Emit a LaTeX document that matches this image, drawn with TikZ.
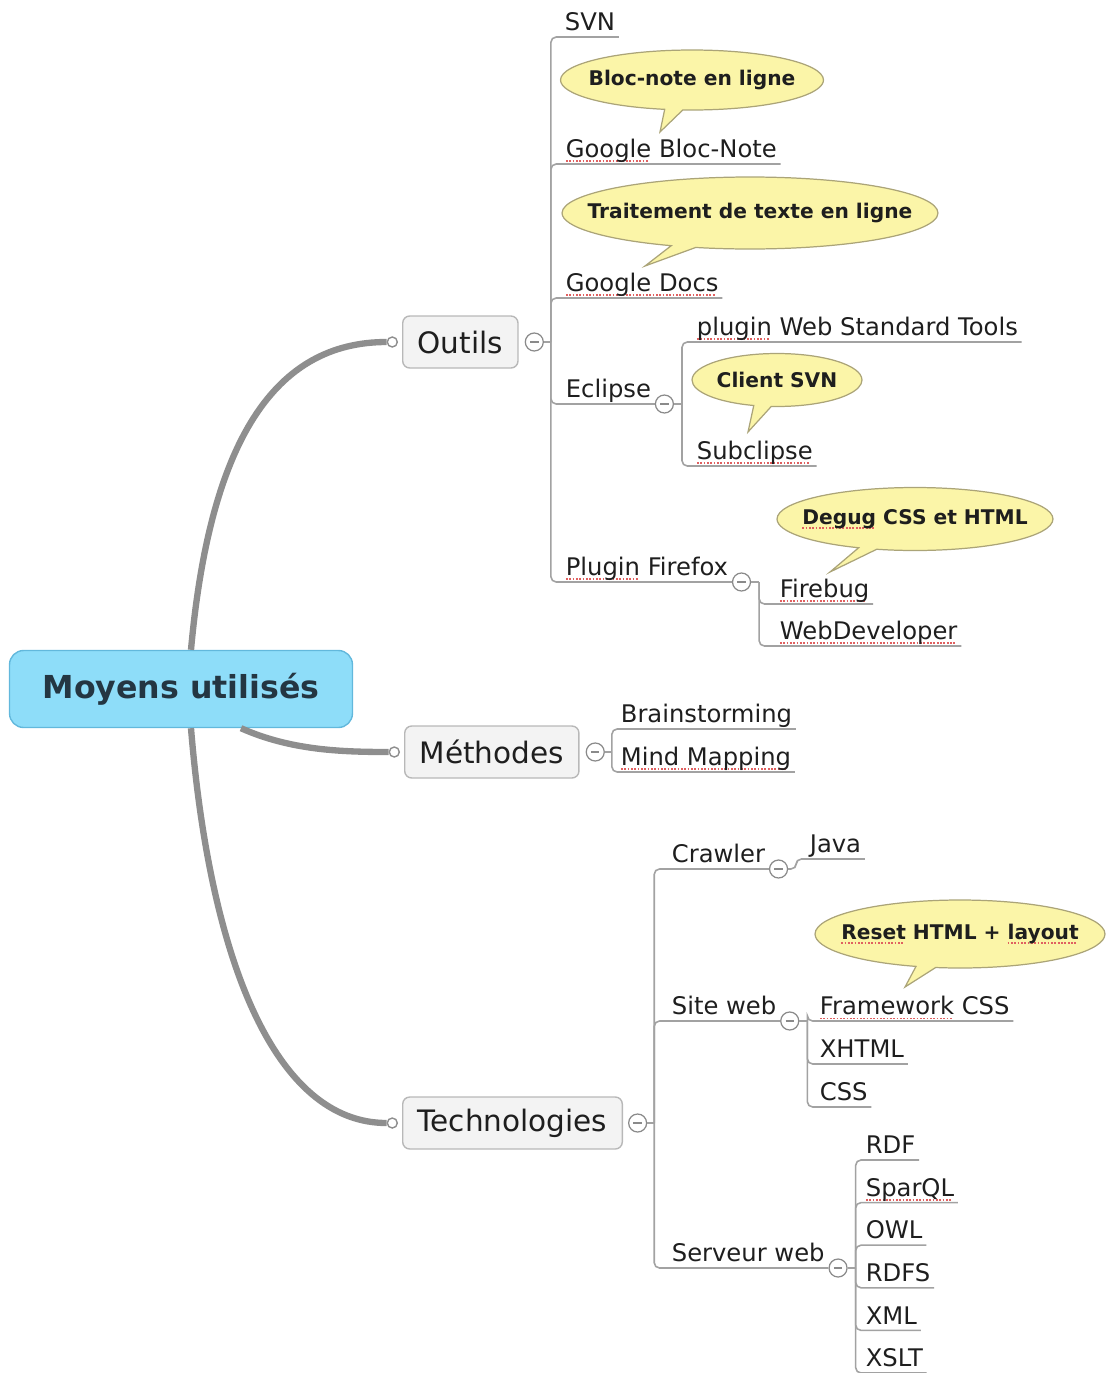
\documentclass[tikz,border=0pt]{standalone}
\usepackage{fontspec}
\setmainfont{DejaVu Sans}
\usetikzlibrary{shapes,positioning}
\definecolor{ink}{HTML}{1E1E1E}
\definecolor{twiggray}{HTML}{A2A2A2}
\definecolor{limbgray}{HTML}{8E8E8E}
\definecolor{knobline}{HTML}{8A8A8A}
\definecolor{boxfill}{HTML}{F3F3F3}
\definecolor{boxline}{HTML}{B8B8B8}
\definecolor{rootfill}{HTML}{8EDDF9}
\definecolor{rootline}{HTML}{62B8DC}
\definecolor{roottext}{HTML}{243642}
\definecolor{notefill}{HTML}{FBF5A8}
\definecolor{noteline}{HTML}{ABA478}
\definecolor{typored}{HTML}{E06060}
\newsavebox\typobox
\newcommand\typo[1]{\sbox\typobox{#1}\rlap{\textcolor{typored}{\leaders\hbox{\rule[-2.4pt]{1pt}{0.8pt}\kern0.9pt}\hskip\wd\typobox}}\usebox\typobox}
\begin{document}
\begin{tikzpicture}[x=0.02cm,y=-0.02cm,
    leaf/.style={font=\fontsize{13.8}{16}\selectfont, text=ink, inner xsep=2pt, inner ysep=0.8pt, text depth=2.6pt, anchor=south west},
    branch/.style={draw=boxline, fill=boxfill, rounded corners=4pt, line width=0.8pt, font=\fontsize{16.8}{20}\selectfont, text=ink, inner xsep=0.3cm, minimum height=1.04cm},
    root/.style={draw=rootline, fill=rootfill, rounded corners=8pt, line width=0.8pt, font=\bfseries\fontsize{18}{22}\selectfont, text=roottext, minimum width=6.86cm, minimum height=1.54cm},
    knob/.style={circle, draw=knobline, fill=white, line width=0.7pt, minimum size=0.36cm, inner sep=0pt,
        path picture={\draw[knobline, line width=0.8pt] ([xshift=-2.4pt]path picture bounding box.center) -- ([xshift=2.4pt]path picture bounding box.center);}},
    endcap/.style={circle, draw=limbgray, fill=white, line width=0.8pt, minimum size=0.2cm, inner sep=0pt},
    limb/.style={draw=limbgray, line width=3.6pt},
    twig/.style={draw=twiggray, line width=0.9pt, rounded corners=3pt},
    note/.style={ellipse callout, draw=noteline, fill=notefill, line width=0.7pt, font=\bfseries\fontsize{11.5}{14}\selectfont, text=ink, inner sep=0pt, callout pointer arc=8}]
    \useasboundingbox (0,0) rectangle (1107,1373);

    % centre
    \node[root] (root) at (181,689) {Moyens utilisés};

    % branches
    \node[branch, anchor=west] (outils) at (402,342) {Outils};
    \node[branch, anchor=west] (methodes) at (404,752) {Méthodes};
    \node[branch, anchor=west] (techno) at (402,1123) {Technologies};
    \node[endcap, left=0.08cm of outils] (oCap) {};
    \node[endcap, left=0.08cm of methodes] (mCap) {};
    \node[endcap, left=0.08cm of techno] (tCap) {};
    \draw[limb] ([xshift=0.2cm]root.north) .. controls (210,440) and (275,342) .. (oCap.west);
    \draw[limb] ([xshift=1.2cm]root.south) .. controls (290,750) and (340,752) .. (mCap.west);
    \draw[limb] ([xshift=0.2cm]root.south) .. controls (210,960) and (275,1123) .. (tCap.west);

    % Outils
    \node[knob, right=0.12cm of outils] (oKnob) {};
    \coordinate[right=0.14cm of oKnob] (oTrunk);
    \node[leaf] (svn) at (561,37) {SVN};
    \node[leaf] (gbn) at (562,164) {\typo{Google} Bloc-Note};
    \node[leaf] (gdocs) at (562,298) {\typo{Google Docs}};
    \node[leaf] (eclipse) at (562,404) {Eclipse};
    \node[leaf] (pfx) at (562,582) {\typo{Plugin} Firefox};
    \draw[twig] (oKnob.east) -- (oTrunk);
    \foreach \n in {svn,gbn,gdocs,eclipse,pfx}
        \draw[twig] (oTrunk) |- (\n.south east);

    % Eclipse
    \node[knob, anchor=west] (eKnob) at (eclipse.south east) {};
    \coordinate[right=0.16cm of eKnob] (eTrunk);
    \node[leaf] (pwst) at (693,342) {\typo{plugin} Web Standard Tools};
    \node[leaf] (subcl) at (693,466) {\typo{Subclipse}};
    \draw[twig] (eKnob.east) -- (eTrunk);
    \foreach \n in {pwst,subcl}
        \draw[twig] (eTrunk) |- (\n.south east);

    % Plugin Firefox
    \node[knob, anchor=west] (fKnob) at (pfx.south east) {};
    \coordinate[right=0.16cm of fKnob] (fTrunk);
    \node[leaf] (firebug) at (776,604) {\typo{Firebug}};
    \node[leaf, below=0.84cm of firebug.south west, anchor=south west] (webdev) {\typo{WebDeveloper}};
    \draw[twig] (fKnob.east) -- (fTrunk);
    \foreach \n in {firebug,webdev}
        \draw[twig] (fTrunk) |- (\n.south east);

    % Méthodes
    \node[knob, right=0.12cm of methodes] (mKnob) {};
    \coordinate[right=0.14cm of mKnob] (mTrunk);
    \node[leaf] (brain) at (617,729) {Brainstorming};
    \node[leaf, below=0.86cm of brain.south west, anchor=south west] (mind) {\typo{Mind Mapping}};
    \foreach \n in {brain,mind}
        \draw[twig] (mTrunk) |- (\n.south east);
    \draw[twig] (mKnob.east) -- (mTrunk);

    % Technologies
    \node[knob, right=0.1cm of techno] (tKnob) {};
    \coordinate[right=0.14cm of tKnob] (tTrunk);
    \node[leaf] (crawler) at (668,869) {Crawler};
    \node[leaf] (siteweb) at (668,1021) {Site web};
    \node[leaf] (serveur) at (668,1268) {Serveur web};
    \draw[twig] (tKnob.east) -- (tTrunk);
    \foreach \n in {crawler,siteweb,serveur}
        \draw[twig] (tTrunk) |- (\n.south east);

    % Crawler
    \node[knob, anchor=west] (cKnob) at (crawler.south east) {};
    \coordinate[right=0.16cm of cKnob] (cTrunk);
    \node[leaf] (java) at (806,859) {Java};
    \draw[twig] (cKnob.east) -- (cTrunk) |- (java.south east);

    % Site web
    \node[knob, anchor=west] (sKnob) at (siteweb.south east) {};
    \coordinate[right=0.16cm of sKnob] (sTrunk);
    \node[leaf] (fwcss) at (816,1021) {\typo{Framework} CSS};
    \node[leaf, below=0.86cm of fwcss.south west, anchor=south west] (xhtml) {XHTML};
    \node[leaf, below=0.86cm of xhtml.south west, anchor=south west] (css) {CSS};
    \draw[twig] (sKnob.east) -- (sTrunk);
    \foreach \n in {fwcss,xhtml,css}
        \draw[twig] (sTrunk) |- (\n.south east);

    % Serveur web
    \node[knob, anchor=west] (vKnob) at (serveur.south east) {};
    \coordinate[right=0.16cm of vKnob] (vTrunk);
    \node[leaf] (rdf) at (862,1160) {RDF};
    \node[leaf, below=0.852cm of rdf.south west, anchor=south west] (sparql) {\typo{SparQL}};
    \node[leaf, below=0.852cm of sparql.south west, anchor=south west] (owl) {OWL};
    \node[leaf, below=0.852cm of owl.south west, anchor=south west] (rdfs) {RDFS};
    \node[leaf, below=0.852cm of rdfs.south west, anchor=south west] (xml) {XML};
    \node[leaf, below=0.852cm of xml.south west, anchor=south west] (xslt) {XSLT};
    \draw[twig] (vKnob.east) -- (vTrunk);
    \foreach \n in {rdf,sparql,owl,rdfs,xml,xslt}
        \draw[twig] (vTrunk) |- (\n.south east);

    % notes
    \coordinate (bnTip) at (660,132);
    \coordinate (tdTip) at (645,266);
    \coordinate (csTip) at (748,432);
    \coordinate (dgTip) at (830,572);
    \coordinate (rsTip) at (905,987);
    \node[note, minimum width=5.26cm, minimum height=1.2cm, callout absolute pointer=(bnTip)] (bnNote) at (692,80) {\makebox[0pt]{Bloc-note en ligne}};
    \node[note, minimum width=7.52cm, minimum height=1.44cm, callout absolute pointer=(tdTip)] (tdNote) at (750,213) {\makebox[0pt]{Traitement de texte en ligne}};
    \node[note, minimum width=3.4cm, minimum height=1.06cm, callout pointer arc=12, callout absolute pointer=(csTip)] (csNote) at (777,380) {\makebox[0pt]{Client SVN}};
    \node[note, minimum width=5.52cm, minimum height=1.26cm, callout absolute pointer=(dgTip)] (dgNote) at (915,519) {\makebox[0pt]{\typo{Degug} CSS et HTML}};
    \node[note, minimum width=5.8cm, minimum height=1.36cm, callout absolute pointer=(rsTip)] (rsNote) at (960,934) {\makebox[0pt]{\typo{Reset} HTML + \typo{layout}}};
\end{tikzpicture}
\end{document}
